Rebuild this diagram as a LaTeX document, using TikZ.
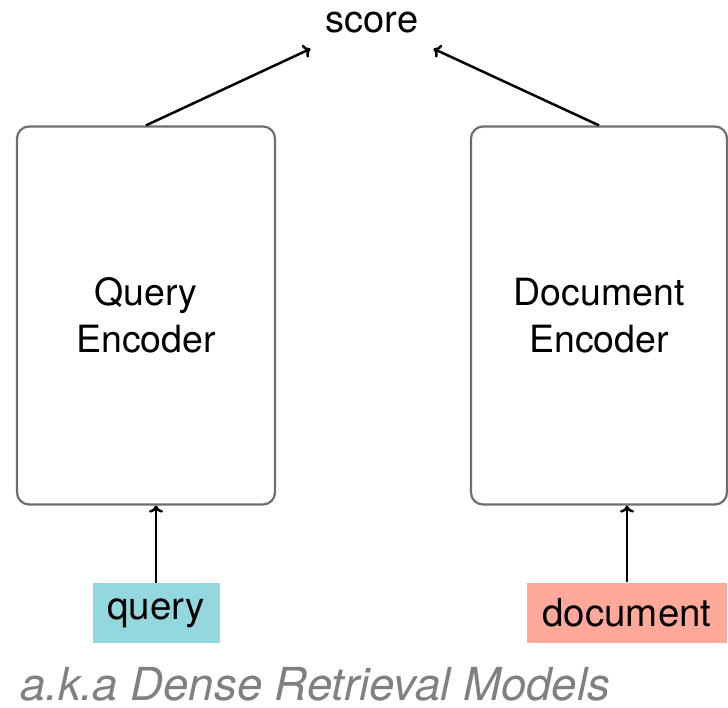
\documentclass[tikz,border=0pt]{standalone}
\usepackage{fontspec}
\setmainfont{TeX Gyre Heros}
\usetikzlibrary{arrows.meta}
\definecolor{querycyan}{HTML}{93D8DE}
\definecolor{docsalmon}{HTML}{FFA99A}
\definecolor{boxgray}{HTML}{6E6E6E}
\definecolor{akagray}{HTML}{808080}
\begin{document}
\begin{tikzpicture}[x = 1pt, y = -1pt,
		encoder/.style = {draw = boxgray, line width = 2.2pt, rounded corners = 12pt, minimum height = 378pt, align = center, inner sep = 0pt, font = \fontsize{37.5}{47}\selectfont},
		inputbox/.style = {minimum height = 60pt, inner sep = 0pt, font = \fontsize{38.5}{44}\selectfont},
		arr/.style = {line width = 2.5pt, -{To[length = 7pt, width = 14pt]}}]
		\useasboundingbox (0,0) rectangle (728,708);
		\node [encoder, minimum width = 258pt] (qenc) at (146,315.5) {Query\\Encoder};
		\node [encoder, minimum width = 256pt] (denc) at (599,315.5) {Document\\Encoder};
		\node [anchor = base, inner sep = 15pt, font = \fontsize{38}{44}\selectfont] (score) at (372,33) {score};
		\node [inputbox, fill = querycyan, minimum width = 127pt] (query) at (156,613) {query};
		\node [inputbox, fill = docsalmon, minimum width = 200pt] (doc) at (627,612.5) {document};
		\draw [arr] (query.north) -- (query.north |- qenc.south);
		\draw [arr] (doc.north) -- (doc.north |- denc.south);
		\draw [arr] (qenc.north) -- (score.south west);
		\draw [arr] (denc.north) -- (score.south east);
		\node [anchor = base west, inner sep = 0pt, text = akagray, font = \fontsize{45.5}{50}\selectfont\itshape] (aka) at (20,700) {a.k.a Dense Retrieval Models};
		%\draw (0,0) rectangle (728,708);
	\end{tikzpicture}
\end{document}
